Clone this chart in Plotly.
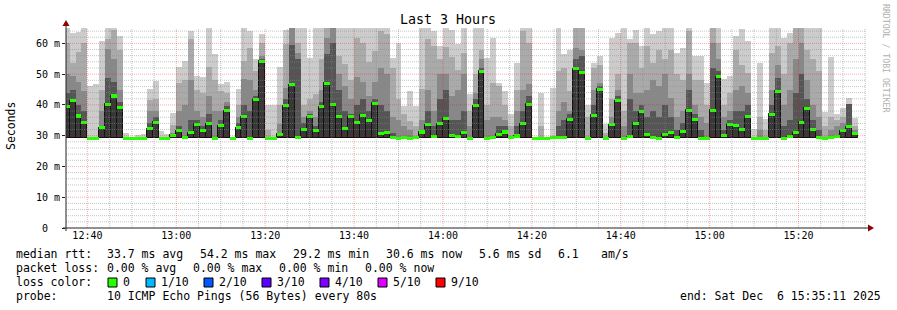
import plotly.graph_objects as go
import pandas as pd

# ---------------- data ----------------
FIRST_CENTER = "2025-12-06 12:35:20"   # centre of first (partial) 80 s step
STEP_SECONDS = 80
X_RANGE = ["2025-12-06 12:35:11", "2025-12-06 15:35:11"]
BASE_MS = 29.2

# smoke layers (top of each band, ms); None = band not visible
MAX_PING = [65, 63.5, 63.6, 65, 46.1, 46.7, 60.7, 65, 65, 62.4,
            30.8, 29.6, 30.2, 30.6, 45.1, 47.8, 31.5, 30.5, 37.5, 52.3,
            54.3, 64, 49.4, 49.2, 65, 56.4, 46.7, 47.3, 29.4, 45.1,
            65, 64, 54.8, 63, 39.9, 39.9, 52.4, 64.2, 65, 65,
            65, 55.4, 65, 65, 65, 65, 65, 65, 65, 65,
            65, 65, 65, 65, 65, 55.4, 60.2, 39.7, 44.5, 39.7,
            65, 65, 64, 59.1, 65, 64.5, 59.7, 65, 43.7, 65,
            65, 55.4, 61.6, 47.2, 44.5, 37.2, 53.7, 65, 65, 29.5,
            44, 29.5, 45.6, 65, 56.4, 58, 65, 65, 39.9, 53.7,
            55.9, 33.7, 61.8, 63.5, 65, 61.3, 64.5, 59.1, 65, 62.9,
            63.9, 65, 65, 57, 58.6, 65, 55.9, 55.9, 47.2, 65,
            65, 48.5, 49.4, 62.4, 64.6, 60.8, 32.1, 53.7, 35.4, 65,
            65, 61.8, 63.5, 65, 65, 65, 65, 65, 37.8, 55.6,
            37.2, 38.9, 42.2, 35.6]

PING_B = [60, 53.6, 57.2, 60.1, None, None, 45, 61.5, 64.5, 57.9,
          None, None, None, None, 41.5, 42, None, None, 33.5, 47.2,
          48, 61.3, 45, 44, 52.4, 48, 44.5, 44, None, 40,
          54.3, 58.6, 51, 60, 32, None, 40, 59.7, 65, 60,
          40, 41.8, 43.5, 55, 65, 65, 55.9, 53.2, 48, 61.6,
          60, 54, 57.5, 64, 63, 52, 41.8, 37, 34.8, 33,
          45.1, 61.3, 59, 55, 58.8, 55.6, 51.5, 57, 38, 50,
          58, 40, 47.2, 46, 40, 33, 45, 64, 60, None,
          33, None, None, 51, 52, 44.5, 65, 65, 36, 52.1,
          53, 31, 42, 50, 38, 60, 60, 52, 59.3, 53.7,
          58, 55, 58, 50, 48, 64, 48, 48, 40, 65,
          60, 40, 44, 58, 53, 50.5, None, 36, 32, 57,
          59, 50, 60, 65, 65, 58, 55, 51, 33, 36,
          35, 36, 40, 33]

PING_C = [50, 49.3, 47.5, 44.4, None, None, 38, 58.3, 55, 45,
          None, None, None, None, 38, 38, None, None, 31, 38,
          40, 48, 38, 36, 43, 38, 38, 41, None, 36,
          48.3, 48, 45, 56, None, None, 33.7, 45.6, 65, 57,
          36, 38, 36, 45, 61.8, 65, 50, 46, 42, 49,
          47.5, 43, 47.3, 52, 50, 36, 35, 33, 32, None,
          35, 45, 38, 50, 50, 43, 45, 50, 33, 44,
          55, 35, 36, 36, 35, None, 38, 45, 46.7, None,
          None, None, None, 38, 41, 38, 58.6, 58, None, 45,
          47, None, 36, 45, 33, 50, 44, 44, 45, 48,
          46, 50, 42.4, 36, 38, 50, 40, 36, 34, 60,
          55, 36, 38, 45, 46, 44, None, 32, None, 45,
          53, 40, 45, 55, 60, 48, 40, 36, None, 32,
          33, 34, 37, 32]

PING_D = [44, 45, 40, 38, None, None, 33, 48.7, 47.3, 41,
          None, None, None, None, 34, 36, None, None, None, 33,
          None, 35, 35, 33, 37, None, 35, 39.5, None, 34,
          40, 38, 43, 55, None, None, None, 42, 59.5, 55,
          34, 37, 33, 41, 56.4, 60.2, 45, 38, 37, 40,
          42, 38, 42, 40, 38, 31, None, None, None, None,
          32, 38, 33, 42, 45, 35, 35, 38, None, 42,
          52, None, None, 33, 33, None, 33, 38, 43, None,
          None, None, None, 33, 35, 37, 55, 55.9, None, 40,
          46, None, 34, 43, None, 42, 38, 40, 36, 38,
          36, 40, 36, 32, 34, 45, 37, 32, None, 52,
          51, 32, 35, 38, 38, 40, None, None, None, 40,
          48.9, 33, 35, 44, 50, 42, 35, 32, None, None,
          None, None, 40.4, None]

MEDIAN = [39.4, 41.3, 36.4, 34.2, 29.2, 29.2, 32.6, 40.2, 42.9, 39.1,
          29.2, 29.2, 29.2, 29.2, 32.3, 34.3, 29.2, 29.2, 30.1, 31.6,
          29.4, 31.0, 33.7, 31.6, 33.9, 29.2, 33.2, 38.1, 29.2, 32.6,
          36.1, 29.2, 41.8, 54.2, 29.2, 29.2, 30.5, 39.7, 46.5, 29.4,
          32.1, 36.1, 31.6, 39.4, 47.0, 40.2, 36.1, 32.4, 36.1, 34.2,
          36.7, 34.8, 40.5, 30.7, 30.9, 29.4, 29.2, 29.4, 29.2, 29.4,
          31.2, 33.6, 29.7, 33.9, 35.6, 30.2, 29.8, 30.9, 29.2, 39.7,
          51.0, 29.2, 29.4, 30.5, 31.2, 29.4, 29.9, 33.9, 40.2, 29.2,
          29.2, 29.2, 29.3, 29.3, 29.3, 35.4, 51.7, 50.5, 29.2, 36.6,
          45.1, 29.2, 33.5, 41.3, 29.2, 29.6, 34.1, 37.8, 30.3, 29.4,
          29.2, 30.4, 31.0, 29.4, 31.5, 38.3, 35.4, 29.2, 29.2, 38.2,
          49.1, 30.2, 33.7, 33.2, 32.1, 36.2, 29.2, 29.2, 29.2, 36.9,
          44.5, 29.2, 29.6, 31.0, 34.3, 38.9, 32.1, 29.3, 29.2, 29.3,
          29.6, 31.6, 32.9, 30.6]

Y_TICKS = [0, 10, 20, 30, 40, 50, 60]
Y_TICK_LABELS = ["0\u00a0\u00a0", "10 m", "20 m", "30 m", "40 m", "50 m", "60 m"]
X_TICKS = ["2025-12-06 12:40", "2025-12-06 13:00", "2025-12-06 13:20", "2025-12-06 13:40",
           "2025-12-06 14:00", "2025-12-06 14:20", "2025-12-06 14:40", "2025-12-06 15:00",
           "2025-12-06 15:20"]
X_TICK_LABELS = ["12:40", "13:00", "13:20", "13:40", "14:00", "14:20", "14:40", "15:00", "15:20"]

TITLE = "Last 3 Hours"
Y_TITLE = "Seconds"
SIDE_TEXT = "RRDTOOL / TOBI OETIKER"
RTT_ITEMS = ["median rtt:", "33.7 ms avg", "54.2 ms max", "29.2 ms min", "30.6 ms now",
             "5.6 ms sd", "6.1", "am/s"]
LOSS_ITEMS = ["packet loss:", "0.00 % avg", "0.00 % max", "0.00 % min", "0.00 % now"]
LOSS_LABELS = ["0", "1/10", "2/10", "3/10", "4/10", "5/10", "9/10"]
LOSS_COLORS = ["#26ff00", "#00b8ff", "#0059ff", "#5e00ff", "#7e00ff", "#dd00ff", "#ff0000"]
PROBE_ITEMS = ["probe:", "10 ICMP Echo Pings (56 Bytes) every 80s"]
END_TEXT = "end: Sat Dec\u00a0\u00a06 15:35:11 2025"

# ---------------- figure ----------------
W, H = 897, 310
ML, MT, PW, PH = 66, 28, 800, 200
MR, MB = W - ML - PW, H - MT - PH
MONO = "DejaVu Sans Mono"
MAJOR_GRID = "rgba(240,0,0,0.32)"
MINOR_GRID = "rgba(140,140,140,0.5)"


def px(x):
    return (x - ML) / PW


def py(y):
    return (MT + PH - y) / PH


n = len(MEDIAN)
times = pd.date_range(FIRST_CENTER, periods=n, freq=f"{STEP_SECONDS}s")
width_ms = STEP_SECONDS * 1000

fig = go.Figure()
layers = [(MAX_PING, "#cccccc"), (PING_B, "#aaaaaa"), (PING_C, "#888888"), (PING_D, "#555555")]
for tops, col in layers:
    h = [max(0.0, (t if t is not None else BASE_MS) - BASE_MS) for t in tops]
    fig.add_trace(go.Bar(x=times, y=h, base=BASE_MS, width=width_ms,
                         marker=dict(color=col, line=dict(width=0)),
                         hoverinfo="skip", showlegend=False))
# darkest band up to the median, outlined
fig.add_trace(go.Bar(x=times, y=[max(0.0, m - BASE_MS) for m in MEDIAN], base=BASE_MS,
                     width=width_ms,
                     marker=dict(color="#383838", line=dict(width=1, color="#111111")),
                     hoverinfo="skip", showlegend=False))
# median line segments coloured by loss (all 0 loss)
fig.add_trace(go.Bar(x=times, y=[1.0] * n, base=[m - 0.5 for m in MEDIAN], width=width_ms,
                     marker=dict(color=LOSS_COLORS[0], line=dict(width=0)),
                     hoverinfo="skip", showlegend=False))

shapes = []
# grid drawn above graph (rrdtool style)
for v in range(2, 65, 2):
    major = v % 10 == 0
    shapes.append(dict(type="line", xref="paper", yref="y", x0=0, x1=1, y0=v, y1=v,
                       layer="above",
                       line=dict(color=MAJOR_GRID if major else MINOR_GRID,
                                 width=1, dash="1px,1px")))
grid_times = pd.date_range("2025-12-06 12:40", "2025-12-06 15:35", freq="5min")
for t in grid_times:
    major = t.minute % 20 == 0
    shapes.append(dict(type="line", xref="x", yref="paper", x0=t, x1=t, y0=0, y1=1,
                       layer="above",
                       line=dict(color=MAJOR_GRID if major else MINOR_GRID,
                                 width=1, dash="1px,1px")))
# axes with arrows
shapes.append(dict(type="line", xref="paper", yref="paper", x0=px(63), x1=px(872),
                   y0=0, y1=0, layer="above", line=dict(color="#222222", width=1)))
shapes.append(dict(type="line", xref="paper", yref="paper", x0=0, x1=0,
                   y0=py(231), y1=py(22), layer="above", line=dict(color="#222222", width=1)))
shapes.append(dict(type="path", xref="paper", yref="paper", layer="above",
                   path=f"M {px(868)} {py(224.5)} L {px(874)} {py(228)} L {px(868)} {py(231.5)} Z",
                   fillcolor="#8b0000", line=dict(width=0)))
shapes.append(dict(type="path", xref="paper", yref="paper", layer="above",
                   path=f"M {px(62.5)} {py(26)} L {px(66)} {py(20)} L {px(69.5)} {py(26)} Z",
                   fillcolor="#8b0000", line=dict(width=0)))
# loss colour boxes
box_x = [108, 146, 204, 262, 320, 378, 436]
for bx, col in zip(box_x, LOSS_COLORS):
    shapes.append(dict(type="rect", xref="paper", yref="paper",
                       x0=px(bx), x1=px(bx + 9), y0=py(278), y1=py(287),
                       fillcolor=col, line=dict(color="#000000", width=1)))

ann = []


def text(s, x, y, size=11.5, anchor="left", color="#000000", angle=0):
    ann.append(dict(text=s.replace("  ", "\u00a0\u00a0"), x=px(x), y=py(y), xref="paper",
                    yref="paper", xanchor=anchor, yanchor="middle", showarrow=False,
                    textangle=angle, borderpad=0, borderwidth=0,
                    font=dict(family=MONO, size=size, color=color)))


text(TITLE, 448, 19, size=13.3, anchor="center")
text(Y_TITLE, 11, 126, size=11.5, anchor="center", angle=-90)
text(SIDE_TEXT, 886, 59, size=8.2, anchor="center", color="#b0b0b0", angle=90)

for s, x in zip(RTT_ITEMS, [16, 107, 200, 293, 386, 479, 558, 601]):
    text(s, x, 254)
for s, x in zip(LOSS_ITEMS, [16, 107, 193, 279, 365]):
    text(s, x, 268)
text("loss color:", 16, 282)
for s, bx in zip(LOSS_LABELS, box_x):
    text(s, bx + 15, 282)
for s, x in zip(PROBE_ITEMS, [16, 107]):
    text(s, x, 296)
text(END_TEXT, 881, 296, anchor="right")

fig.update_layout(
    width=W, height=H, margin=dict(l=ML, r=MR, t=MT, b=MB, pad=0),
    paper_bgcolor="#ffffff", plot_bgcolor="#ffffff",
    barmode="overlay", bargap=0, showlegend=False,
    shapes=shapes, annotations=ann,
    xaxis=dict(type="date", range=X_RANGE, tickvals=X_TICKS, ticktext=X_TICK_LABELS,
               showgrid=False, zeroline=False, showline=False, ticks="",
               tickfont=dict(family=MONO, size=10, color="#000000"), fixedrange=True),
    yaxis=dict(range=[0, 65], tickvals=Y_TICKS, ticktext=Y_TICK_LABELS,
               showgrid=False, zeroline=False, showline=False,
               ticks="outside", ticklen=3, tickcolor="#222222",
               tickfont=dict(family=MONO, size=10, color="#000000"), fixedrange=True),
)

fig.write_html("out.html")
